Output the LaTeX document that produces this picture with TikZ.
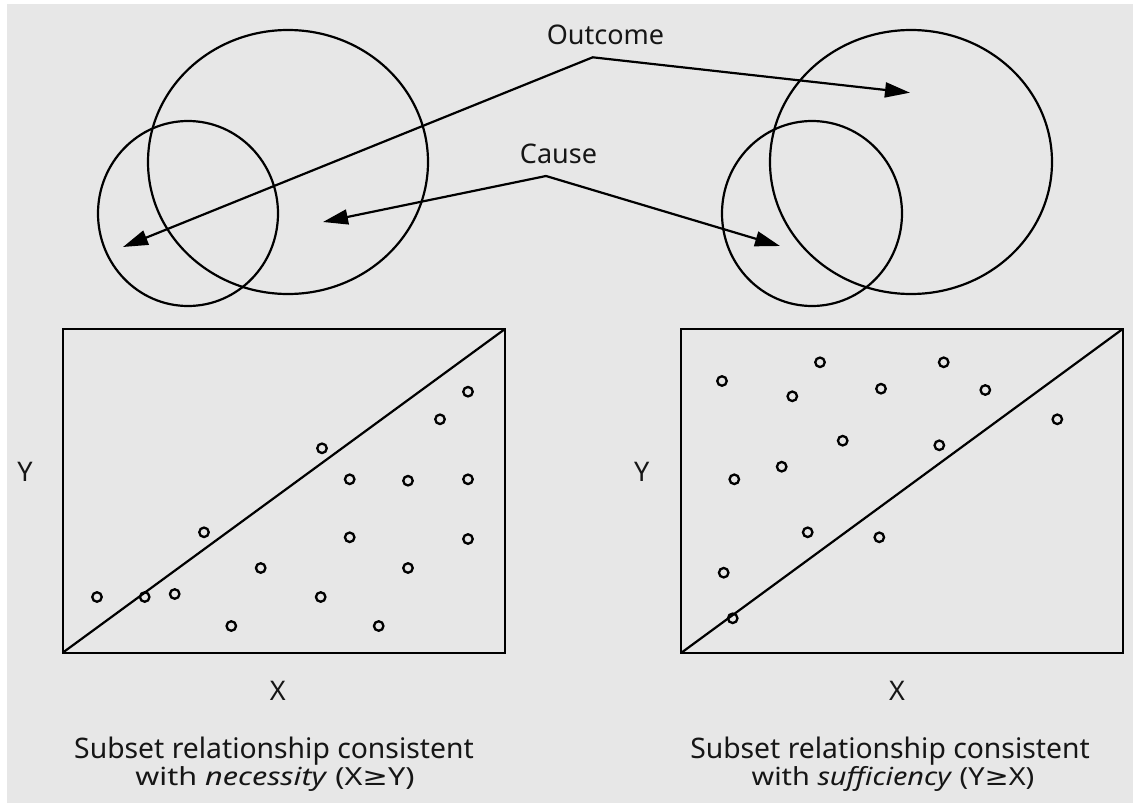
\documentclass[tikz,border=0pt]{standalone}
\usepackage{graphicx}
\usepackage{fontspec}
\setmainfont{Noto Sans}
\newfontfamily\symfont{DejaVu Sans}
\usetikzlibrary{arrows.meta,shapes.geometric}
\definecolor{bg}{RGB}{231,231,231}
\definecolor{ink}{RGB}{22,22,22}
\newcommand{\geqsym}{{\symfont ≥}}
\begin{document}
\begin{tikzpicture}[x=1pt,y=-1pt,
  venn/.style={draw, ellipse, line width=2.2pt, inner sep=0pt, outer sep=0pt},
  dot/.style={draw, circle, line width=2.3pt, minimum size=9.5pt, inner sep=0pt},
  frame/.style={draw, rectangle, line width=2.4pt, inner sep=0pt, outer sep=0pt, anchor=south west},
  arr/.style={line width=2.2pt, line cap=round, -{Triangle[length=25pt,width=15pt]}},
  lbl/.style={font=\fontsize{27}{32}\selectfont, text=ink, inner sep=0pt, anchor=base},
  captext/.style={font=\fontsize{28.3}{32}\selectfont, text=ink, inner sep=0pt, anchor=base},
]
\useasboundingbox (0,0) rectangle (1133,803);
\fill[white] (0,0) rectangle (1133,803);
\fill[bg] (7,4) rectangle (1133,803);

% Venn diagrams
\node[venn, minimum width=280pt, minimum height=264pt] (outL) at (288,162) {};
\node[venn, minimum width=180pt, minimum height=185pt] (cauL) at (188,213.5) {};
\node[venn, minimum width=282pt, minimum height=264pt] (outR) at (911,162) {};
\node[venn, minimum width=180pt, minimum height=185pt] (cauR) at (812,213.5) {};

% labels and arrows
\node[lbl] (outcome) at (605.5,44) {Outcome};
\node[lbl] (cause) at (558.5,163.5) {Cause};
\coordinate (ov) at (592.7,57.3);
\coordinate (cv) at (546,176);
\coordinate (otl) at (123,247);
\coordinate (otr) at (910,92.7);
\coordinate (ctl) at (323,222);
\coordinate (ctr) at (780,246);
\draw[arr] (ov) -- (otl);
\draw[arr] (ov) -- (otr);
\draw[arr] (cv) -- (ctl);
\draw[arr] (cv) -- (ctr);

% plots
\node[frame, minimum width=442.3pt, minimum height=323.7pt] (boxL) at (62.7,652.7) {};
\node[frame, minimum width=441.7pt, minimum height=324pt] (boxR) at (681,653) {};
\draw[line width=2.2pt] (boxL.south west) -- (boxL.north east);
\draw[line width=2.2pt] (boxR.south west) -- (boxR.north east);

\foreach \p/\q [count=\i] in {468/391.7, 440/419.3, 322/448.3, 349.7/479.3, 408/480.7, 468/479.3, 204/532.3, 349.7/537.3, 468/539, 260.7/568, 408/568, 97/597, 144.7/597, 174.7/594, 320.7/597, 231.3/626, 378.7/626}
  \node[dot] (l\i) at (\p,\q) {};
\foreach \p/\q [count=\i] in {722/381, 820/362.3, 792.3/396.3, 943.7/362.3, 881/388.7, 985.3/390, 1057.3/419.3, 842.7/440.7, 939.3/445.3, 781.7/466.7, 734.3/479.3, 807.7/532.3, 879.3/537.3, 723.7/572.7, 732.7/618.3}
  \node[dot] (r\i) at (\p,\q) {};

\node[lbl] (yL) at (25,481) {Y};
\node[lbl] (yR) at (641.7,481) {Y};
\node[lbl] (xL) at (277.7,700) {X};
\node[lbl] (xR) at (897,700) {X};

\node[captext] (capL1) at (274,758) {Subset relationship consistent};
\node[captext] (capL2) at (275,785) {\scalebox{1.08}[0.88]{with \textit{necessity} (X\geqsym Y)}};
\node[captext] (capR1) at (890,758) {Subset relationship consistent};
\node[captext] (capR2) at (893,785) {\scalebox{1.02}[0.88]{with \textit{sufficiency} (Y\geqsym X)}};
\end{tikzpicture}
\end{document}
